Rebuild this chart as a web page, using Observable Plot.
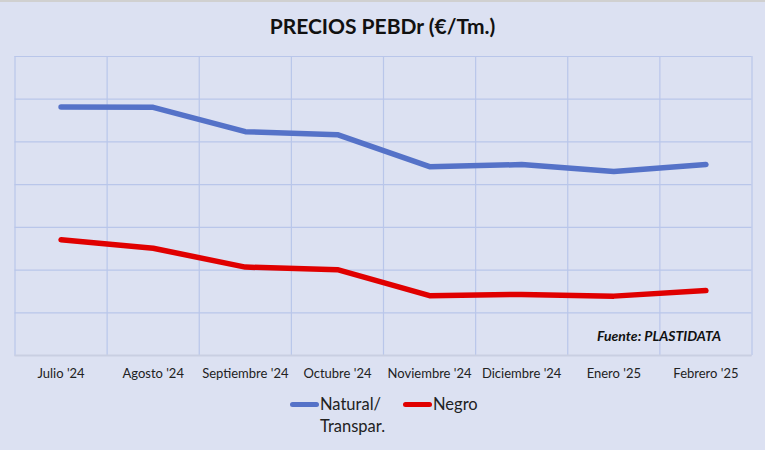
<!DOCTYPE html>
<html>
<head>
<meta charset="utf-8">
<script src="https://cdn.jsdelivr.net/npm/d3@7"></script>
<script src="https://cdn.jsdelivr.net/npm/@observablehq/plot@0.6"></script>
<style>
  html, body { margin: 0; padding: 0; }
  body { width: 765px; height: 450px; overflow: hidden; }
  #wrap { position: relative; width: 765px; height: 450px; background: #dce1f2; font-family: Lato, "Open Sans", sans-serif; }
  #topline { position: absolute; left: 0; top: 0; width: 765px; height: 2px; background: #d0d0d0; }
  #title { position: absolute; left: 0; right: 0; top: 13px; text-align: center; font-weight: 700; font-size: 21px; color: #111; }
  #chart { position: absolute; left: 0; top: 44px; }
  #legend { position: absolute; top: 393px; left: 290px; font-size: 16.5px; color: #222; }
  .item { position: absolute; top: 0; white-space: nowrap; line-height: 22px; }
  .sw { position: absolute; top: 9px; width: 29px; height: 5px; border-radius: 3px; }
  .lab { position: absolute; left: 30px; top: 0; }
</style>
</head>
<body>
<div id="wrap">
  <div id="topline"></div>
  <div id="title">PRECIOS PEBDr (€/Tm.)</div>
  <div id="chart"></div>
  <div id="legend"></div>
</div>
<script>
const months = ["Julio '24", "Agosto '24", "Septiembre '24", "Octubre '24", "Noviembre '24", "Diciembre '24", "Enero '25", "Febrero '25"];
const natural = [1282, 1281, 1224, 1217, 1142, 1147, 1131, 1147];
const negro = [971, 951, 907, 901, 840, 843, 839, 852];
const seriesNames = ["Natural/\nTranspar.", "Negro"];
const seriesColors = ["#5572c8", "#e00000"];
const yTicks = [700, 800, 900, 1000, 1100, 1200, 1300, 1400];

const data = [];
[natural, negro].forEach((vals, s) => vals.forEach((v, i) => data.push({i, v, s: seriesNames[s]})));
const idx = d3.range(months.length);
const edges = d3.range(months.length + 1).map(k => k - 0.5);

const plot = Plot.plot({
  width: 765,
  height: 345,
  marginTop: 12,
  marginBottom: 34,
  marginLeft: 14.5,
  marginRight: 13.5,
  style: {background: "transparent", fontFamily: "Lato, 'Open Sans', sans-serif", fontSize: "13px", color: "#222"},
  x: {type: "linear", domain: [-0.5, months.length - 0.5], ticks: idx, tickFormat: i => months[i], tickSize: 0, tickPadding: 13.5, label: null},
  y: {domain: [700, 1400], axis: null},
  color: {domain: seriesNames, range: seriesColors},
  marks: [
    Plot.ruleY(yTicks, {stroke: "#b9c6ea", strokeWidth: 1.2}),
    Plot.ruleX(edges, {stroke: "#b9c6ea", strokeWidth: 1.2}),
    Plot.ruleY([700], {stroke: "#c9cfe2", strokeWidth: 2}),
    Plot.line(data, {x: "i", y: "v", z: "s", stroke: "s", strokeWidth: 5.5, strokeLinecap: "round", strokeLinejoin: "round"}),
    Plot.text(["Fuente: PLASTIDATA"], {frameAnchor: "bottom-right", dx: -31, dy: -19, lineAnchor: "middle", textAnchor: "end", fontWeight: "bold", fontStyle: "italic", fontSize: 14, fill: "#111"})
  ]
});
document.getElementById("chart").appendChild(plot);

const legend = document.getElementById("legend");
const offsets = [0, 113];
seriesNames.forEach((name, k) => {
  const it = document.createElement("div");
  it.className = "item";
  it.style.left = offsets[k] + "px";
  const sw = document.createElement("div");
  sw.className = "sw";
  sw.style.background = seriesColors[k];
  const lab = document.createElement("div");
  lab.className = "lab";
  lab.innerHTML = name.split("\n").join("<br>");
  it.appendChild(sw);
  it.appendChild(lab);
  legend.appendChild(it);
});
</script>
</body>
</html>
